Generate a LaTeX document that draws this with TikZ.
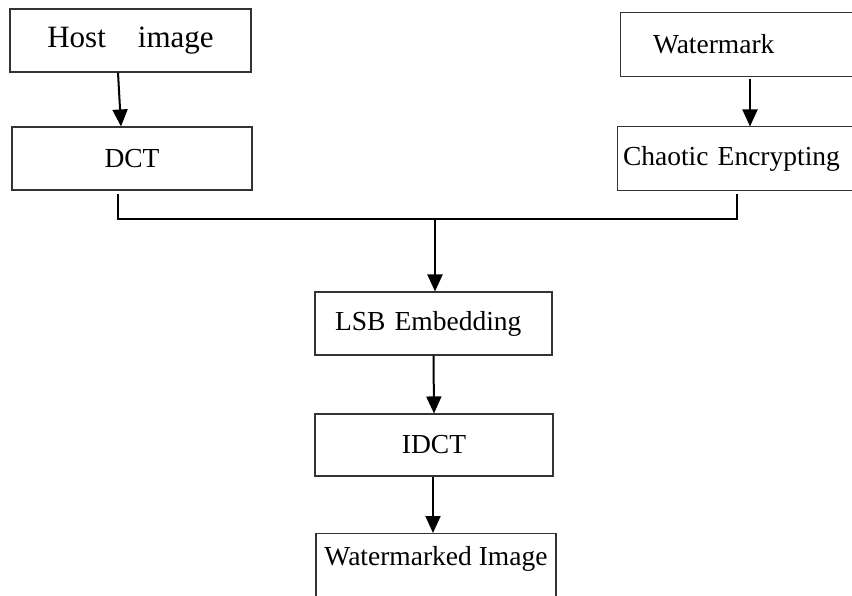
\documentclass[tikz,border=0pt]{standalone}
\usepackage{fontspec}
\setmainfont{Liberation Serif}
\usepackage{tikz}
\usetikzlibrary{arrows.meta}
\tikzset{block/.style = {draw = black!80, line width = 0.55pt, rectangle, inner sep = 0,
    minimum width = 120pt, minimum height = 31.5pt, font = \fontsize{13.75}{16}\selectfont}}
\tikzset{cutblock/.style = {block, draw = none, minimum width = 0}}
\tikzset{frame/.style = {draw = black!80, line width = 0.55pt}}
\tikzset{link/.style = {line width = 1pt}}
\tikzset{flow/.style = {link, -{Triangle[length = 8.5pt, width = 7.5pt]}}}

\begin{document}
\begin{tikzpicture}[x=0.5pt, y=-0.5pt]
    \useasboundingbox (0, 0) rectangle (852, 595);
    \clip (0, 0) rectangle (852, 595);

    \node [block, minimum width = 120.5pt] (host) at (130.5, 40.5)
        {\fontsize{15.5}{18}\selectfont Host\hspace{16pt}image};
    \node [block] (dct) at (132, 158.5) {DCT};
    \node [cutblock, inner xsep = 16pt, text width = 87.5pt, align = left] (wm) at (740.5, 44.5) {Watermark};
    \node [cutblock, inner xsep = 2.5pt, text width = 116pt, align = left] (ch) at (739, 158.5) {Chaotic Encrypting};
    % the two right boxes run off the page
    \draw [frame] (wm.north east) -- (wm.north west) -- (wm.south west) -- (wm.south east);
    \draw [frame] (ch.north east) -- (ch.north west) -- (ch.south west) -- (ch.south east);

    \node [block, minimum width = 118.5pt, inner xsep = 10pt, text width = 98.5pt, align = left] (lsb) at (433.5, 323.5) {LSB Embedding};
    \node [block, minimum width = 119pt, minimum height = 31pt] (idct) at (434, 445) {IDCT};
    \node [block, anchor = north, text depth = 9pt] (wi) at (436, 533) {Watermarked Image};

    \draw [flow] ([xshift = -6.25pt]host.south) -- ([xshift = -5.5pt]dct.north);
    \draw [flow] ([xshift = 4.75pt, yshift = -1pt]wm.south) -- ([xshift = 5.5pt]ch.north);

    \coordinate (join) at (435, 219);
    \draw [link] ([xshift = -7pt, yshift = -1.5pt]dct.south) |- (join) -| ([xshift = -1pt, yshift = -1.5pt]ch.south);
    \draw [flow] (join) -- (join |- lsb.north);

    \draw [flow] (lsb.south) -- (idct.north);
    \draw [flow] ([xshift = -0.5pt]idct.south) -- ([xshift = -1.5pt]wi.north);
  \end{tikzpicture}
\end{document}
